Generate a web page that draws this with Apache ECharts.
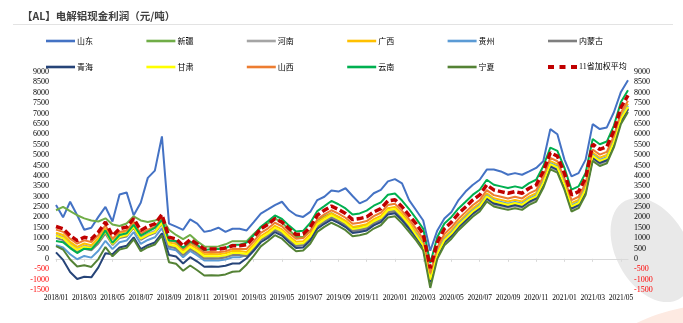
<!DOCTYPE html>
<html><head><meta charset="utf-8">
<script src="https://cdn.jsdelivr.net/npm/echarts@6/dist/echarts.min.js"></script>
<style>html,body{margin:0;padding:0;background:#fff}#c{width:683px;height:323px}</style>
</head><body><div id="c"></div>
<script>
const categories = ["2018-01-01","2018-01-15","2018-02-01","2018-02-15","2018-03-01","2018-03-15","2018-04-01","2018-04-15","2018-05-01","2018-05-15","2018-06-01","2018-06-15","2018-07-01","2018-07-15","2018-08-01","2018-08-15","2018-09-01","2018-09-15","2018-10-01","2018-10-15","2018-11-01","2018-11-15","2018-12-01","2018-12-15",
"2019-01-01","2019-01-15","2019-02-01","2019-02-15","2019-03-01","2019-03-15","2019-04-01","2019-04-15","2019-05-01","2019-05-15","2019-06-01","2019-06-15","2019-07-01","2019-07-15","2019-08-01","2019-08-15","2019-09-01","2019-09-15","2019-10-01","2019-10-15","2019-11-01","2019-11-15","2019-12-01","2019-12-15",
"2020-01-01","2020-01-15","2020-02-01","2020-02-15","2020-03-01","2020-03-15","2020-04-01","2020-04-15","2020-05-01","2020-05-15","2020-06-01","2020-06-15","2020-07-01","2020-07-15","2020-08-01","2020-08-15","2020-09-01","2020-09-15","2020-10-01","2020-10-15","2020-11-01","2020-11-15","2020-12-01","2020-12-15",
"2021-01-01","2021-01-15","2021-02-01","2021-02-15","2021-03-01","2021-03-15","2021-04-01","2021-04-15","2021-05-01","2021-05-15"];
const xTickLabels = ["2018/01","2018/03","2018/05","2018/07","2018/09","2018/11","2019/01","2019/03","2019/05","2019/07","2019/09","2019/11","2020/01","2020/03","2020/05","2020/07","2020/09","2020/11","2021/01","2021/03","2021/05"];
const seriesNames = ["山东","新疆","河南","广西","贵州","内蒙古","青海","甘肃","山西","云南","宁夏","11省加权平均"];
const shandong = [2590,2000,2750,2100,1400,1500,2020,2500,1800,3100,3200,2100,2700,3900,4250,5900,1700,1550,1400,1900,1700,1300,1370,1500,1300,1450,
1450,1370,1770,2180,2380,2590,2750,2340,2100,2020,2260,2830,2990,3290,3240,3400,3030,2670,2830,3160,3320,3730,3840,3640,2830,
2340,1850,390,1370,1940,2260,2830,3240,3560,3810,4300,4300,4210,4050,4130,4050,4210,4380,4700,6250,6000,4780,3970,4130,4780,6490,6250,6330,7060,8040,8600];
const xinjiang = [2340,2500,2300,2100,1950,1850,1800,1950,1650,1580,1700,2050,1850,1780,1850,1950,1400,1150,950,1150,850,600,580,600,700,850,
850,850,1200,1500,1700,1950,1750,1400,1050,1050,1350,1850,2050,2200,2000,1800,1500,1550,1600,1800,1950,2300,2350,2000,1550,
1090,600,-1050,200,850,1170,1580,1900,2230,2480,2960,2720,2640,2560,2640,2560,2800,2960,3610,4510,4350,3530,2480,2640,3290,4920,4670,4800,5570,6700,7270];
const henan = [1160,1050,720,480,640,560,890,1370,770,1100,1180,1590,1020,1210,1340,1780,640,560,230,530,320,70,80,70,120,230,
230,230,590,950,1160,1440,1270,950,670,650,980,1550,1790,1990,1780,1580,1290,1340,1420,1660,1820,2190,2250,1910,1500,
990,500,-1200,100,750,1070,1480,1800,2130,2380,2860,2620,2540,2460,2540,2460,2700,2860,3510,4410,4250,3430,2380,2540,3190,4820,4570,4700,5470,6600,7170];
const guangxi = [1260,1150,820,580,740,660,990,1470,920,1250,1330,1740,1170,1360,1490,1930,790,710,380,680,470,220,230,220,270,380,
380,330,690,1100,1310,1590,1420,1100,820,850,1180,1750,1990,2190,2030,1830,1540,1590,1670,1910,2070,2440,2500,2160,1750,
1290,800,-850,400,1050,1370,1780,2100,2430,2680,3160,2920,2840,2760,2840,2760,3000,3160,3810,4710,4550,3730,2680,2840,3490,5120,4870,5000,5770,6900,7470];
const guizhou = [660,550,220,-20,140,60,390,870,470,800,880,1290,720,910,1040,1480,490,410,80,380,170,-80,-70,-80,-30,80,
80,180,540,950,1160,1440,1270,950,670,700,1030,1600,1840,2040,1880,1680,1390,1440,1520,1760,1920,2290,2350,2010,1600,
1190,700,-950,300,950,1270,1680,2000,2330,2580,3060,2820,2740,2660,2740,2660,2900,3060,3710,4610,4450,3630,2580,2740,3390,5020,4770,4900,5670,6800,7370];
const neimenggu = [1010,900,570,330,490,410,740,1220,670,1000,1080,1490,920,1110,1240,1680,590,510,180,480,270,20,30,20,70,180,
180,130,490,900,1110,1390,1220,900,620,650,980,1550,1790,1990,1830,1630,1340,1390,1470,1710,1870,2240,2300,1960,1550,
1040,550,-1100,150,800,1120,1530,1850,2180,2430,2910,2670,2590,2510,2590,2510,2750,2910,3560,4460,4300,3480,2430,2590,3240,4870,4620,4750,5520,6650,7220];
const qinghai = [310,-50,-630,-970,-860,-890,-410,270,220,550,630,1040,470,660,790,1230,190,110,-220,80,-130,-380,-370,-380,-330,-220,
-220,30,390,800,1010,1290,1120,800,520,550,880,1450,1690,1890,1730,1530,1240,1290,1370,1610,1770,2140,2200,1860,1450,
1040,550,-1100,150,800,1120,1530,1850,2180,2430,2910,2670,2590,2510,2590,2510,2750,2910,3560,4460,4300,3480,2430,2590,3240,4870,4620,4750,5520,6650,7220];
const gansu = [1110,1000,670,430,590,510,840,1320,720,1050,1130,1540,970,1160,1290,1730,690,610,280,580,370,120,130,120,170,280,
280,230,590,1000,1210,1490,1320,1000,720,750,1080,1650,1890,2090,1930,1730,1440,1490,1570,1810,1970,2340,2400,2060,1650,
1140,650,-1000,250,900,1220,1630,1950,2280,2530,3010,2770,2690,2610,2690,2610,2850,3010,3660,4560,4400,3580,2530,2690,3340,4970,4720,4850,5620,6750,7320];
const shanxi = [1410,1300,970,730,890,810,1140,1620,970,1300,1380,1790,1220,1410,1540,1980,890,810,480,780,570,320,330,320,370,480,
480,480,840,1250,1460,1740,1570,1250,970,1000,1330,1900,2140,2340,2180,1980,1690,1740,1820,2060,2220,2590,2650,2310,1900,
1440,950,-700,550,1200,1520,1930,2250,2580,2830,3310,3070,2990,2910,2990,2910,3150,3310,3960,4860,4700,3880,2830,2990,3640,5270,5020,5150,5920,7050,7620];
const yunnan = [860,800,520,280,490,460,840,1370,770,1150,1230,1640,1120,1310,1490,1880,890,860,530,830,670,420,480,470,520,680,
680,780,1140,1550,1810,2090,1920,1600,1320,1350,1730,2300,2540,2790,2630,2430,2140,2190,2320,2560,2720,3090,3150,2810,2400,
1940,1450,-200,1050,1700,2020,2430,2750,3080,3330,3810,3570,3490,3410,3490,3410,3650,3810,4460,5360,5200,4380,3330,3490,4140,5770,5520,5650,6420,7550,8120];
const ningxia = [610,450,-30,-370,-310,-390,-10,570,120,450,530,940,370,560,690,1130,-160,-240,-570,-320,-550,-800,-790,-800,-750,-620,
-600,-270,140,600,860,1140,970,650,370,400,730,1300,1540,1740,1580,1380,1090,1140,1220,1460,1620,1990,2050,1710,1300,
890,400,-1400,0,650,970,1380,1700,2030,2280,2760,2520,2440,2360,2440,2360,2600,2760,3410,4310,4150,3330,2280,2440,3090,4720,4470,4600,5370,6500,7070];
const average = [1560,1450,1120,880,1040,960,1290,1770,1120,1450,1530,1940,1370,1560,1690,2130,1040,960,630,930,720,470,480,470,520,630,
630,680,1040,1450,1660,1940,1770,1450,1170,1200,1530,2100,2340,2540,2380,2180,1890,1940,2020,2260,2420,2790,2850,2510,2100,
1690,1200,-450,800,1450,1770,2180,2500,2830,3080,3560,3320,3240,3160,3240,3160,3400,3560,4210,5110,4950,4130,3080,3240,3890,5520,5270,5400,6170,7300,7870];
const yTicks = {min:-1500, max:9000, interval:500};

const seriesData = [shandong,xinjiang,henan,guangxi,guizhou,neimenggu,qinghai,gansu,shanxi,yunnan,ningxia,average];
const colors = ["#4472C4","#70AD47","#A5A5A5","#FFC000","#5B9BD5","#7F7F7F","#264478","#FFFF00","#ED7D31","#00B050","#548235","#C00000"];

const chart = echarts.init(document.getElementById('c'), null, {renderer:'canvas'});
const isTick = (idx, val) => xTickLabels.indexOf(val.slice(0,4)+'/'+val.slice(5,7)) >= 0 && val.slice(8,10)==='01';
const fmtX = v => v.slice(0,4)+'/'+v.slice(5,7);
const serif = '"Liberation Serif","Times New Roman",serif';
const cjk = '"Noto Sans CJK SC","Microsoft YaHei",sans-serif';
const dashIcon = 'path://M0,0h6v4h-6zM11.5,0h6v4h-6zM23,0h6v4h-6z';

const legends = seriesNames.map((n,k)=>{
  const isAvg = k===11;
  return {
    data:[{name:n, icon: isAvg ? dashIcon : 'rect'}],
    left: 46 + (k%6)*100.4, top: (k<6?37:63), itemWidth:29, itemHeight: isAvg?4:2.6, itemGap:0,
    padding:0, selectedMode:false,
    textStyle:{fontSize:8, color:'#000', fontFamily: isAvg ? serif+','+cjk : cjk, padding:[0,0,0,-3]}
  };
});

const option = {
  animation:false,
  color: colors,
  title:{text:'【AL】电解铝现金利润（元/吨）', left:17, top:6, textStyle:{fontSize:10.5, fontWeight:'bold', color:'#404040', fontFamily:cjk}},
  legend: legends,
  graphic:[
    {type:'line', shape:{x1:13,y1:24.5,x2:673,y2:24.5}, style:{stroke:'#e3e3e3', lineWidth:1.2}, z:-10},
    {type:'ellipse', shape:{cx:652, cy:250, rx:36, ry:56}, rotation:0.5, originX:652, originY:250, style:{fill:'#e9e9e9'}, z:-10},
    {type:'ellipse', shape:{cx:690, cy:345, rx:90, ry:38}, rotation:0.2, originX:690, originY:345, style:{fill:'#fdeae2'}, z:-10}
  ],
  grid:{left:56, right:55, top:72, bottom:33, containLabel:false},
  xAxis:[
    {type:'category', data:categories, boundaryGap:false,
     axisLine:{onZero:true, lineStyle:{color:'#d9d9d9', width:1}},
     axisTick:{show:true, interval:isTick, length:3, lineStyle:{color:'#d9d9d9'}},
     axisLabel:{show:false}, splitLine:{show:false}},
    {type:'category', data:categories, boundaryGap:false, position:'bottom',
     axisLine:{show:false, onZero:false}, axisTick:{show:false},
     axisLabel:{interval:isTick, formatter:fmtX, fontSize:7.5, color:'#000', fontFamily:serif, margin:4}}
  ],
  yAxis:[
    {type:'value', min:yTicks.min, max:yTicks.max, interval:yTicks.interval, position:'left',
     axisLine:{show:false}, axisTick:{show:false}, splitLine:{show:false},
     axisLabel:{fontSize:8, fontFamily:serif, margin:7, formatter:(v)=>String(v), color:(v)=> Number(v)<0?'#FF0000':'#000'}},
    {type:'value', min:yTicks.min, max:yTicks.max, interval:yTicks.interval, position:'right',
     axisLine:{show:false}, axisTick:{show:false}, splitLine:{show:false},
     axisLabel:{fontSize:8, fontFamily:serif, margin:6, formatter:(v)=>String(v), color:(v)=> Number(v)<0?'#FF0000':'#000'}}
  ],
  series: seriesNames.map((n,k)=>({
    name:n, type:'line', data:seriesData[k], xAxisIndex:0, yAxisIndex:0,
    showSymbol:false, symbol:'none', smooth:false,
    lineStyle: k===11 ? {color:colors[k], width:3.5, type:[7,3]} : {color:colors[k], width:2},
    itemStyle:{color:colors[k]}, z: 2+k
  }))
};
chart.setOption(option);
</script></body></html>
